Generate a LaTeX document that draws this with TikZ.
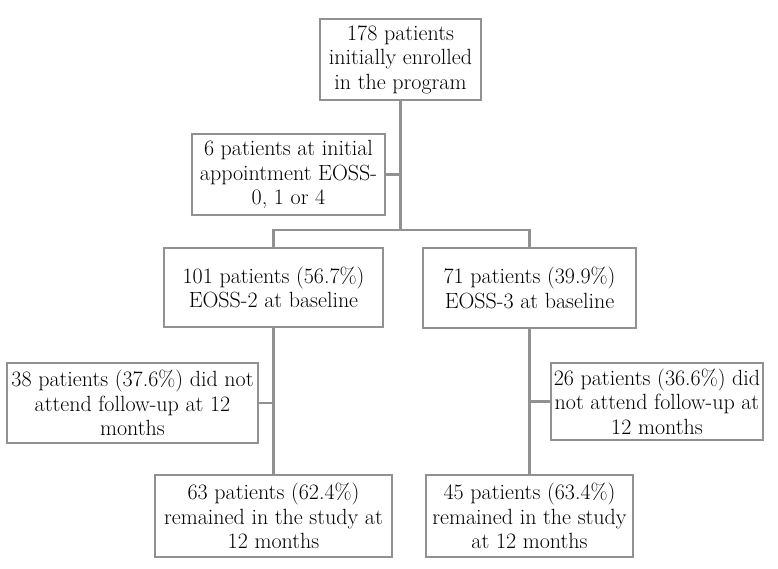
\documentclass[tikz,border=0pt]{standalone}
\begin{document}
\begin{tikzpicture}[x=1pt,y=-1pt,
  every node/.style={font=\fontsize{22}{24.5}\selectfont},
  boxnode/.style={draw=linegray, line width=2.4pt, fill=white, align=center, inner sep=0pt},
  conn/.style={draw=linegray, line width=2.4pt}]
\definecolor{linegray}{RGB}{145,145,145}
\useasboundingbox (0,0) rectangle (778,568);
\node[boxnode, minimum width=161pt, minimum height=81pt] (top) at (400.5,59.5) {178 patients\\initially enrolled\\in the program};
\node[boxnode, minimum width=193pt, minimum height=81pt] (six) at (288.5,174.5) {6 patients at initial\\appointment EOSS-\\0, 1 or 4};
\node[boxnode, minimum width=219pt, minimum height=79pt] (b101) at (273.5,287.5) {101 patients (56.7\%)\\EOSS-2 at baseline};
\node[boxnode, minimum width=213pt, minimum height=80pt] (b71) at (529.5,288) {71 patients (39.9\%)\\EOSS-3 at baseline};
\node[boxnode, minimum width=251pt, minimum height=80pt] (b38) at (132.5,403) {38 patients (37.6\%) did not\\attend follow-up at 12\\months};
\node[boxnode, minimum width=212pt, minimum height=77pt] (b26) at (657,401.5) {26 patients (36.6\%) did\\not attend follow-up at\\12 months};
\node[boxnode, minimum width=237pt, minimum height=82pt] (b63) at (273.5,516) {63 patients (62.4\%)\\remained in the study at\\12 months};
\node[boxnode, minimum width=207pt, minimum height=82pt] (b45) at (529.5,516) {45 patients (63.4\%)\\remained in the study\\at 12 months};
\coordinate (j1) at (400.5,230);
\draw[conn] (top.south) -- (j1);
\draw[conn] (b101.north) |- (j1) -| (b71.north);
\draw[conn] (six.east) -- (six.east -| top.south);
\draw[conn] (b101.south) -- (b63.north);
\draw[conn] (b71.south) -- (b45.north);
\draw[conn] (b38.east) -- (b38.east -| b101.south);
\draw[conn] (b26.west) -- (b26.west -| b71.south);
\end{tikzpicture}
\end{document}
